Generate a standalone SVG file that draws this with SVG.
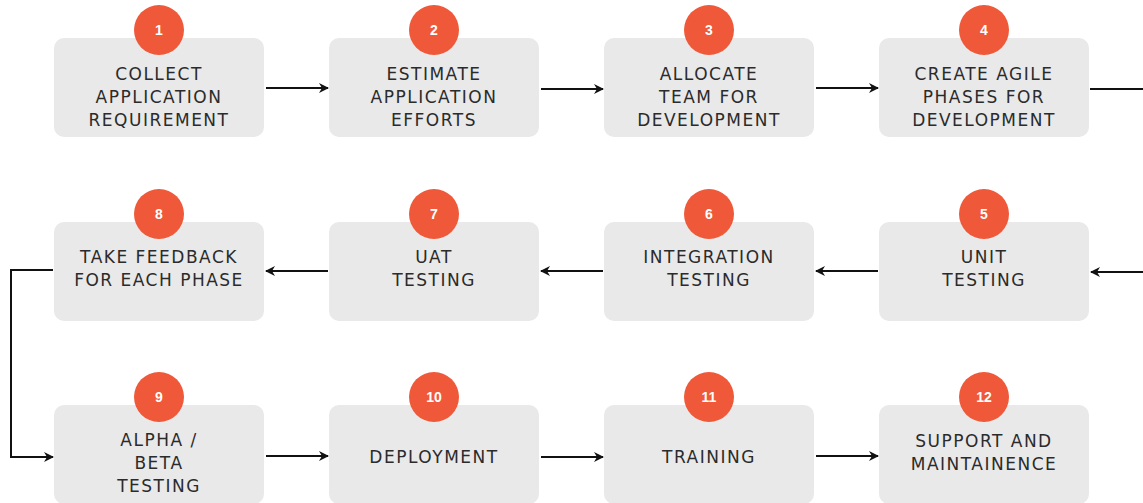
<svg xmlns="http://www.w3.org/2000/svg" width="1143" height="503" viewBox="0 0 1143 503">
<defs>
<style>
.box{fill:#e9e9ea}
.badge{fill:#ef5838}
.num{font-family:"Liberation Sans",Arial,sans-serif;font-weight:bold;font-size:14px;fill:#fff;text-anchor:middle}
.lbl{font-family:"DejaVu Sans","Liberation Sans",sans-serif;font-size:17px;fill:#2b2b2b;text-anchor:middle;letter-spacing:1.5px}
.conn{fill:none;stroke:#111;stroke-width:2}
</style>
<marker id="ah" viewBox="0 0 10 10" refX="9" refY="5" markerWidth="5" markerHeight="5" orient="auto" markerUnits="strokeWidth">
<path d="M0,0 L10,5 L0,10 L3,5 Z" fill="#111"/>
</marker>
</defs>
<rect width="1143" height="503" fill="#fff"/>
<g id="connectors">
<path class="conn" d="M266,88 H328" marker-end="url(#ah)"/>
<path class="conn" d="M541,89 H603" marker-end="url(#ah)"/>
<path class="conn" d="M816,88 H878" marker-end="url(#ah)"/>
<path class="conn" d="M1090,89 H1143"/>
<path class="conn" d="M1143,272 H1091" marker-end="url(#ah)"/>
<path class="conn" d="M878,271 H816" marker-end="url(#ah)"/>
<path class="conn" d="M603,271 H541" marker-end="url(#ah)"/>
<path class="conn" d="M328,271 H266" marker-end="url(#ah)"/>
<path class="conn" d="M53,270 H11 V457 H53" marker-end="url(#ah)"/>
<path class="conn" d="M266,456 H328" marker-end="url(#ah)"/>
<path class="conn" d="M541,457 H603" marker-end="url(#ah)"/>
<path class="conn" d="M816,456 H878" marker-end="url(#ah)"/>
</g>
<g id="n1"><rect class="box" x="54" y="38" width="210" height="99" rx="10"/><circle class="badge" cx="159" cy="30" r="25"/><text class="num" x="159" y="35">1</text>
<text class="lbl"><tspan x="159" y="80">COLLECT</tspan><tspan x="159" y="103">APPLICATION</tspan><tspan x="159" y="126">REQUIREMENT</tspan></text></g>
<g id="n2"><rect class="box" x="329" y="38" width="210" height="99" rx="10"/><circle class="badge" cx="434" cy="30" r="25"/><text class="num" x="434" y="35">2</text>
<text class="lbl"><tspan x="434" y="80">ESTIMATE</tspan><tspan x="434" y="103">APPLICATION</tspan><tspan x="434" y="126">EFFORTS</tspan></text></g>
<g id="n3"><rect class="box" x="604" y="38" width="210" height="99" rx="10"/><circle class="badge" cx="709" cy="30" r="25"/><text class="num" x="709" y="35">3</text>
<text class="lbl"><tspan x="709" y="80">ALLOCATE</tspan><tspan x="709" y="103">TEAM FOR</tspan><tspan x="709" y="126">DEVELOPMENT</tspan></text></g>
<g id="n4"><rect class="box" x="879" y="38" width="210" height="99" rx="10"/><circle class="badge" cx="984" cy="30" r="25"/><text class="num" x="984" y="35">4</text>
<text class="lbl"><tspan x="984" y="80">CREATE AGILE</tspan><tspan x="984" y="103">PHASES FOR</tspan><tspan x="984" y="126">DEVELOPMENT</tspan></text></g>
<g id="n5"><rect class="box" x="879" y="222" width="210" height="99" rx="10"/><circle class="badge" cx="984" cy="214" r="25"/><text class="num" x="984" y="219">5</text>
<text class="lbl"><tspan x="984" y="263">UNIT</tspan><tspan x="984" y="286">TESTING</tspan></text></g>
<g id="n6"><rect class="box" x="604" y="222" width="210" height="99" rx="10"/><circle class="badge" cx="709" cy="214" r="25"/><text class="num" x="709" y="219">6</text>
<text class="lbl"><tspan x="709" y="263">INTEGRATION</tspan><tspan x="709" y="286">TESTING</tspan></text></g>
<g id="n7"><rect class="box" x="329" y="222" width="210" height="99" rx="10"/><circle class="badge" cx="434" cy="214" r="25"/><text class="num" x="434" y="219">7</text>
<text class="lbl"><tspan x="434" y="263">UAT</tspan><tspan x="434" y="286">TESTING</tspan></text></g>
<g id="n8"><rect class="box" x="54" y="222" width="210" height="99" rx="10"/><circle class="badge" cx="159" cy="214" r="25"/><text class="num" x="159" y="219">8</text>
<text class="lbl"><tspan x="159" y="263">TAKE FEEDBACK</tspan><tspan x="159" y="286">FOR EACH PHASE</tspan></text></g>
<g id="n9"><rect class="box" x="54" y="405" width="210" height="99" rx="10"/><circle class="badge" cx="159" cy="397" r="25"/><text class="num" x="159" y="402">9</text>
<text class="lbl"><tspan x="159" y="446">ALPHA /</tspan><tspan x="159" y="469">BETA</tspan><tspan x="159" y="492">TESTING</tspan></text></g>
<g id="n10"><rect class="box" x="329" y="405" width="210" height="99" rx="10"/><circle class="badge" cx="434" cy="397" r="25"/><text class="num" x="434" y="402">10</text>
<text class="lbl"><tspan x="434" y="463">DEPLOYMENT</tspan></text></g>
<g id="n11"><rect class="box" x="604" y="405" width="210" height="99" rx="10"/><circle class="badge" cx="709" cy="397" r="25"/><text class="num" x="709" y="402">11</text>
<text class="lbl"><tspan x="709" y="463">TRAINING</tspan></text></g>
<g id="n12"><rect class="box" x="879" y="405" width="210" height="99" rx="10"/><circle class="badge" cx="984" cy="397" r="25"/><text class="num" x="984" y="402">12</text>
<text class="lbl"><tspan x="984" y="447">SUPPORT AND</tspan><tspan x="984" y="470">MAINTAINENCE</tspan></text></g>
</svg>
